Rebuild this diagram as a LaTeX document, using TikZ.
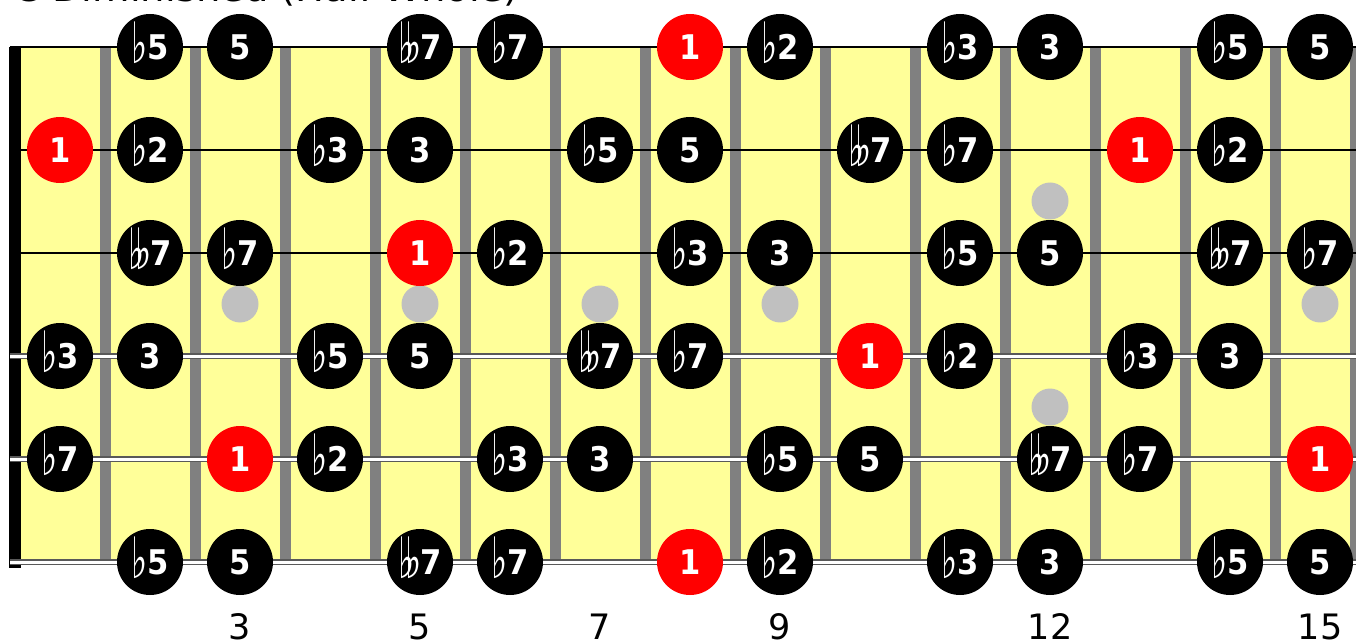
\documentclass[tikz,border=0pt]{standalone}
\usepackage{fontspec}
\setmainfont{DejaVu Sans}
\newfontfamily\notefont[FakeStretch=0.9]{DejaVu Sans}
\newfontfamily\flatfont[FakeStretch=0.6]{DejaVu Sans}
\newfontfamily\titlefont[FakeStretch=1.07]{DejaVu Sans}
\newcommand\flglyph{{\flatfont\mdseries\fontsize{57}{57}\selectfont ♭}}
\newcommand\fl{\smash{\raisebox{-4pt}{\flglyph}}\kern-0.5pt}
\newcommand\dfl{\smash{\raisebox{-4pt}{\rlap{\flglyph}\kern7pt\flglyph}}\kern-0.5pt}
\definecolor{board}{RGB}{255,255,153}
\definecolor{fretgray}{RGB}{128,128,128}
\definecolor{inlay}{RGB}{192,192,192}
\tikzset{
  note/.style={circle,fill=black,minimum size=66pt,inner sep=0pt,text=white,
    font=\notefont\bfseries\fontsize{34}{34}\selectfont},
  root/.style={note,fill=red},
  fretwire/.style={fill=fretgray},
  dot/.style={circle,fill=inlay,minimum size=37pt,inner sep=0pt},
  thinstring/.style={draw=black,line width=1.8pt},
  woundouter/.style={draw=black!65,line width=6pt},
  woundinner/.style={draw=white,line width=3pt},
  fretnum/.style={anchor=base,inner sep=0pt,font=\fontsize{35}{35}\selectfont},
}
\begin{document}
\begin{tikzpicture}[x=1pt,y=-1pt]
\useasboundingbox (0,0) rectangle (1356,644);
% board
\fill[board] (21,47) rectangle (1370,562);
% frets
\foreach \n in {1,...,14} \fill[fretwire] ({90*\n+15-5.5},47) rectangle ({90*\n+15+5.5},562);
\fill[fretwire] (1350,47) rectangle (1361,562);
% inlays
\foreach \k in {3,5,7,9,15} \node[dot] (dot\k) at ({90*\k-30},304) {};
\node[dot] (dot12a) at (1050,201) {};
\node[dot] (dot12b) at (1050,407) {};
% nut
\fill[black] (9,47) rectangle (21,568);
% strings
\foreach \y/\nm in {47/s1,150/s2,253/s3}{
  \coordinate (\nm a) at (10,\y); \coordinate (\nm b) at (1370,\y);
  \draw[thinstring] (\nm a) -- (\nm b);}
\foreach \y/\nm in {356/s4,459/s5,562/s6}{
  \coordinate (\nm a) at (10,\y); \coordinate (\nm b) at (1370,\y);
  \draw[woundouter] (\nm a) -- (\nm b);
  \draw[woundinner] (\nm a) -- (\nm b);}
% notes
\foreach \y/\s in {47/1,562/6}{
  \foreach \k/\t/\st in {2/\fl5/note,3/5/note,5/\dfl7/note,6/\fl7/note,8/1/root,9/\fl2/note,11/\fl3/note,12/3/note,14/\fl5/note,15/5/note}
    \node[\st] (n\s-\k) at ({90*\k-30},\y) {\t};}
\foreach \k/\t/\st in {1/1/root,2/\fl2/note,4/\fl3/note,5/3/note,7/\fl5/note,8/5/note,10/\dfl7/note,11/\fl7/note,13/1/root,14/\fl2/note}
  \node[\st] (n2-\k) at ({90*\k-30},150) {\t};
\foreach \k/\t/\st in {2/\dfl7/note,3/\fl7/note,5/1/root,6/\fl2/note,8/\fl3/note,9/3/note,11/\fl5/note,12/5/note,14/\dfl7/note,15/\fl7/note}
  \node[\st] (n3-\k) at ({90*\k-30},253) {\t};
\foreach \k/\t/\st in {1/\fl3/note,2/3/note,4/\fl5/note,5/5/note,7/\dfl7/note,8/\fl7/note,10/1/root,11/\fl2/note,13/\fl3/note,14/3/note}
  \node[\st] (n4-\k) at ({90*\k-30},356) {\t};
\foreach \k/\t/\st in {1/\fl7/note,3/1/root,4/\fl2/note,6/\fl3/note,7/3/note,9/\fl5/note,10/5/note,12/\dfl7/note,13/\fl7/note,15/1/root}
  \node[\st] (n5-\k) at ({90*\k-30},459) {\t};
% fret numbers
\foreach \k in {3,5,7,9,12,15} \node[fretnum] (fn\k) at ({90*\k-30},639) {\k};
% title
\node[anchor=base west,inner sep=0pt,font=\titlefont\fontsize{36}{36}\selectfont] (title) at (13,2) {C Diminished (Half-Whole)};
\end{tikzpicture}
\end{document}
